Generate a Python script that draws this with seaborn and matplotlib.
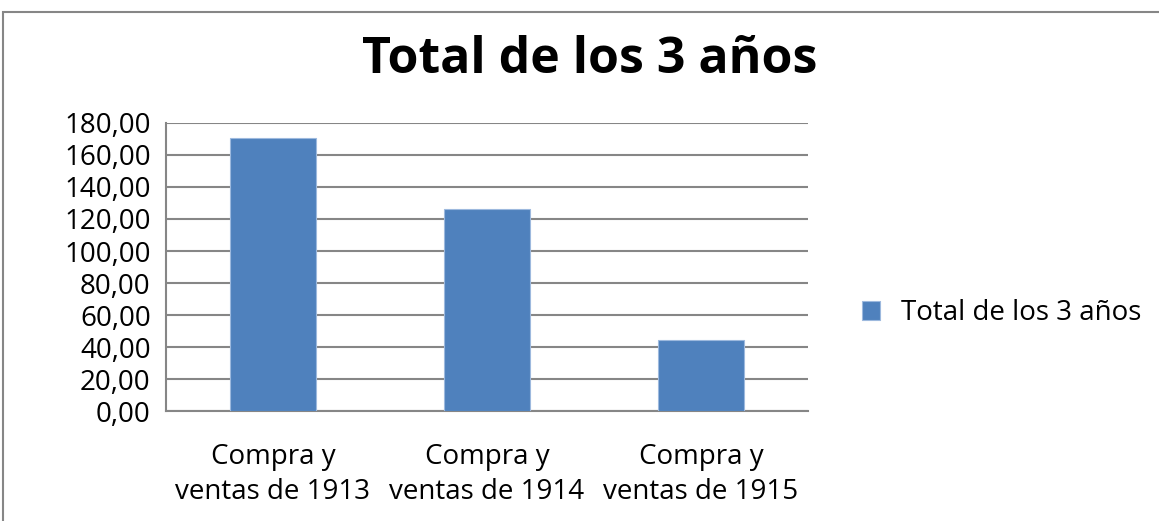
import matplotlib
matplotlib.use("Agg")
import matplotlib.pyplot as plt
import seaborn as sns
import pandas as pd
from matplotlib.ticker import FuncFormatter, MultipleLocator, FixedLocator
from matplotlib.patches import Rectangle

categories = ["Compra y\nventas de 1913", "Compra y\nventas de 1914", "Compra y\nventas de 1915"]
totals = [170.4, 126.3, 44.1]
series_name = "Total de los 3 años"

df = pd.DataFrame({"cat": categories, "val": totals, "serie": [series_name] * 3})

sns.set_style("white")
plt.rcParams["font.family"] = ["Open Sans", "DejaVu Sans"]
plt.rcParams["text.color"] = "black"

fig = plt.figure(figsize=(11.59, 5.21), dpi=100)
ax = fig.add_axes([0.1432, 0.211, 0.554, 0.553])

sns.barplot(data=df, x="cat", y="val", hue="serie", palette=["#4F81BD"], saturation=1,
            width=0.4, ax=ax, edgecolor="#9DB9DE", linewidth=0.8, zorder=3)

ax.set_ylim(0, 180)
ax.set_xlim(-0.5, 2.5)
ax.yaxis.set_major_locator(MultipleLocator(20))
ax.yaxis.set_major_formatter(FuncFormatter(lambda v, p: f"{v:.2f}".replace(".", ",")))
ax.grid(axis="y", color="#868686", linewidth=1.5, zorder=0)
ax.set_axisbelow(True)

for s in ["top", "right"]:
    ax.spines[s].set_visible(False)
for s in ["left", "bottom"]:
    ax.spines[s].set_color("#868686")
    ax.spines[s].set_linewidth(1.5)

ax.tick_params(axis="y", which="major", length=7, width=1.5, color="#868686",
               direction="out", labelsize=20, pad=4, labelcolor="black")
ax.set_xticks([0, 1, 2])
ax.set_xticklabels(categories, fontsize=20, linespacing=1.35, color="black")
ax.tick_params(axis="x", which="major", length=0, pad=23)
ax.xaxis.set_minor_locator(FixedLocator([-0.5, 0.5, 1.5, 2.5]))
ax.tick_params(axis="x", which="minor", length=7, width=1.5, color="#868686", direction="out")
ax.set_xlabel("")
ax.set_ylabel("")

ax.legend(loc="center left", bbox_to_anchor=(1.045, 0.34), frameon=False,
          fontsize=20, handlelength=0.65, handleheight=0.65, handletextpad=0.75)

fig.text(0.509, 0.885, "Total de los 3 años", ha="center", va="center",
         fontsize=36, fontweight="bold", color="black")

fig.patches.append(Rectangle((0.003, -0.05), 1.1, 1.027, transform=fig.transFigure,
                             fill=False, edgecolor="#868686", linewidth=1.5))

fig.savefig("out.png", dpi=100)
